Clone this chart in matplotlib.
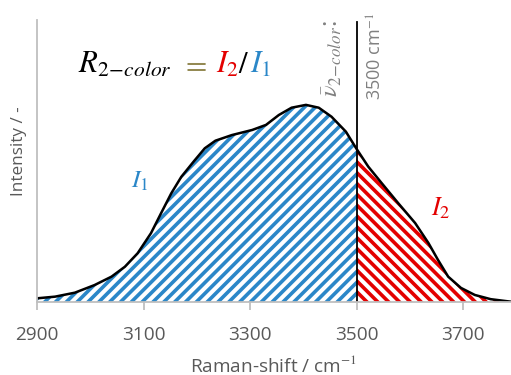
import matplotlib
matplotlib.use("Agg")
import matplotlib.pyplot as plt

# spectrum
shift = [2900, 2934, 2971, 3008, 3040, 3065, 3089, 3114, 3133, 3152, 3171, 3195,
         3215, 3235, 3266, 3304, 3330, 3354, 3378, 3405, 3429, 3453, 3480, 3500,
         3522, 3547, 3578, 3610, 3635, 3653, 3672, 3696, 3722, 3752, 3790]
intensity = [0.013, 0.019, 0.033, 0.060, 0.090, 0.125, 0.173, 0.244, 0.315, 0.385,
             0.444, 0.500, 0.545, 0.572, 0.592, 0.610, 0.628, 0.663, 0.689, 0.699,
             0.689, 0.657, 0.604, 0.543, 0.480, 0.422, 0.351, 0.280, 0.209, 0.149,
             0.090, 0.050, 0.025, 0.010, 0.001]
split = 3500
xticks = [2900, 3100, 3300, 3500, 3700]

BLUE = "#2B87C8"
RED = "#E30000"
GREY = "#595959"
OLIVE = "#948A54"

W, H, DPI = 511, 375, 130
plt.rcParams["font.family"] = ["Open Sans", "DejaVu Sans"]
plt.rcParams["mathtext.fontset"] = "stix"
plt.rcParams["hatch.linewidth"] = 2.0

fig = plt.figure(figsize=(W / DPI, H / DPI), dpi=DPI)
ax = fig.add_axes([37 / W, 73 / H, 1 - 37 / W, 282 / H])


def px(x, y):
    return x / W, 1 - y / H


i = shift.index(split)
ax.fill_between(shift[:i + 1], intensity[:i + 1], 0, facecolor="none",
                edgecolor=BLUE, hatch="////", linewidth=0)
ax.fill_between(shift[i:], intensity[i:], 0, facecolor="none",
                edgecolor=RED, hatch="\\\\\\\\", linewidth=0)
ax.plot(shift, intensity, color="black", lw=1.4, solid_joinstyle="round",
        solid_capstyle="round")
ax.plot([split, split], [0, 0.993], color="black", lw=1.0)

ax.set_xlim(2900, 3790)
ax.set_ylim(0, 1)
ax.set_xticks(xticks)
ax.set_yticks([])
for s in ["top", "right"]:
    ax.spines[s].set_visible(False)
for s in ["left", "bottom"]:
    ax.spines[s].set_color("#BFBFBF")
    ax.spines[s].set_linewidth(1.0)
ax.tick_params(axis="x", colors="#BFBFBF", length=4.5, width=1.0, pad=9,
               labelsize=10.5, labelcolor=GREY)

fig.text(*px(274, 372), "Raman-shift / cm$^{-1}$", color=GREY, fontsize=10.5,
         ha="center", va="baseline")
fig.text(*px(19, 151), "Intensity / -", color=GREY, fontsize=9.5,
         rotation=90, ha="center", va="center")

# rotated labels at the split line
fig.text(*px(333, 97), r"$\bar{\nu}_{2\!-\!color}$:", color="#808080", fontsize=13.5,
         rotation=90, ha="center", va="bottom")
fig.text(*px(376, 100), "3500 cm$^{-1}$", color="#808080", fontsize=10,
         rotation=90, ha="center", va="bottom")

# area labels
fig.text(*px(131, 188), "$I_1$", color=BLUE, fontsize=14, ha="left", va="baseline")
fig.text(*px(431, 215), "$I_2$", color=RED, fontsize=14.5, ha="left", va="baseline")

# coloured formula, pieces chained left to right
pieces = [(r"$R_{2\!-\!color}$", "black", 9), ("$=$", OLIVE, 9), ("$I_2$", RED, 0),
          ("$/$", "black", 0), ("$I_1$", BLUE, 0)]
x0, y0 = 78, 73
renderer = fig.canvas.get_renderer()
for txt, col, gap in pieces:
    t = fig.text(x0 / W, 1 - y0 / H, txt, color=col, fontsize=17,
                 ha="left", va="baseline")
    bb = t.get_window_extent(renderer=renderer)
    x0 = bb.x1 + gap

fig.savefig("out.png", dpi=DPI)
